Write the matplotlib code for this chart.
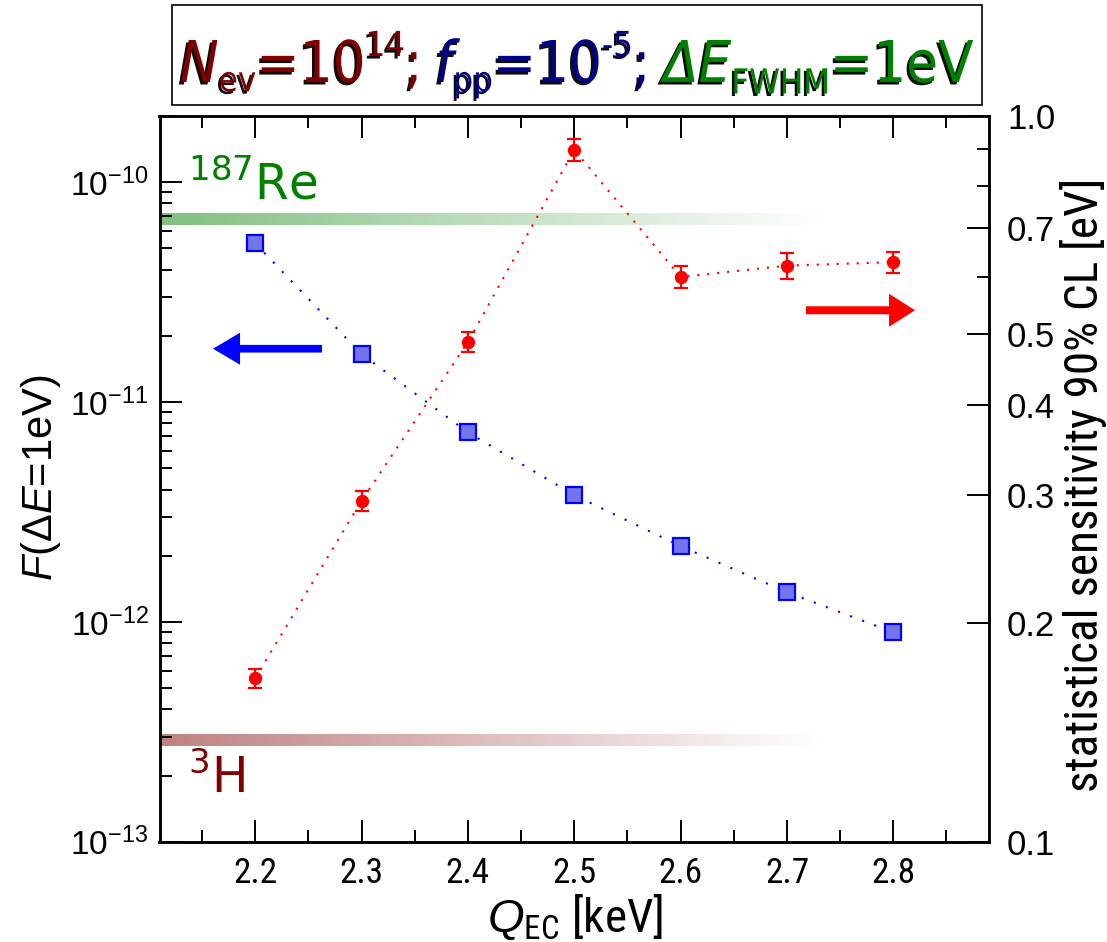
import os
import numpy as np
import matplotlib
matplotlib.use("Agg")
import matplotlib.pyplot as plt
from matplotlib import patheffects as pe
from matplotlib import font_manager as fm
from matplotlib.colors import to_rgb
from matplotlib.collections import LineCollection
from matplotlib.patches import FancyArrow, Rectangle
from matplotlib.ticker import FixedLocator, FixedFormatter, NullFormatter, LogLocator

# ---- data -------------------------------------------------------------
q_ec = [2.2, 2.3, 2.4, 2.5, 2.6, 2.7, 2.8]                      # keV
f_de1 = [5.27e-11, 1.65e-11, 7.28e-12, 3.77e-12, 2.21e-12, 1.365e-12, 8.97e-13]
sens90 = [0.168, 0.295, 0.488, 0.898, 0.600, 0.622, 0.629]      # eV
sens90_err = [0.0052, 0.0090, 0.0156, 0.031, 0.021, 0.026, 0.021]
f_re187 = 6.8e-11
f_h3 = 2.9e-13
band_end = 2.735

x_ticks = [2.2, 2.3, 2.4, 2.5, 2.6, 2.7, 2.8]
left_major = [1e-13, 1e-12, 1e-11, 1e-10]
right_major = [0.1, 0.2, 0.3, 0.4, 0.5, 0.7, 1.0]
right_labels = ["0.1", "0.2", "0.3", "0.4", "0.5", "0.7", "1.0"]
right_minor = [0.6, 0.8, 0.9]

DARKRED = "#800000"
NAVY = "#00008b"
GREEN = "#008000"

# ---- fonts ------------------------------------------------------------
_fonts = fm.fontManager.ttflist
_names = {f.name for f in _fonts}
SANS = ["Liberation Sans", "DejaVu Sans"]
_narrow = next((n for n in ["Liberation Sans Narrow", "Arial Narrow", "Roboto Condensed",
                            "Open Sans Condensed", "Noto Sans Condensed"] if n in _names), None)
NARROW = ([_narrow] if _narrow else []) + SANS


def _font_file(filename):
    for f in _fonts:
        if os.path.basename(f.fname) == filename:
            return f.fname
    for p in fm.findSystemFonts():
        if os.path.basename(p) == filename:
            return p
    return None


_head_up = _font_file("DejaVuSansCondensed.ttf")
_head_it = _font_file("DejaVuSansCondensed-Oblique.ttf")


def head_props(style, size):
    path = _head_it if style == "italic" else _head_up
    if path:
        return fm.FontProperties(fname=path, size=size)
    return fm.FontProperties(family=NARROW, style=style, weight="normal", size=size)


plt.rcParams.update({
    "font.family": SANS,
    "mathtext.fontset": "custom",
    "mathtext.rm": "Liberation Sans",
    "mathtext.it": "Liberation Sans:italic",
    "mathtext.bf": "Liberation Sans:bold",
    "axes.linewidth": 1.8,
    "xtick.direction": "in",
    "ytick.direction": "in",
    "xtick.major.size": 16, "xtick.minor.size": 8.5,
    "ytick.major.size": 16, "ytick.minor.size": 8.5,
    "xtick.major.width": 1.4, "xtick.minor.width": 1.4,
    "ytick.major.width": 1.4, "ytick.minor.width": 1.4,
})

W_PX, H_PX = 1107, 942
fig = plt.figure(figsize=(W_PX / 100, H_PX / 100), dpi=100)
renderer = fig.canvas.get_renderer()


def fit_size(text, max_size, target_px, **kw):
    """Largest font size (<= max_size) whose rendered width stays within target_px."""
    t = fig.text(0, 0, text, fontsize=max_size, **kw)
    w = t.get_window_extent(renderer).width
    t.remove()
    return min(max_size, max_size * target_px / w)


ax = fig.add_axes([159.5 / W_PX, (H_PX - 841.7) / H_PX, 829.5 / W_PX, 725.7 / H_PX])
ax2 = ax.twinx()

# ---- left axis: F(dE = 1 eV) -------------------------------------------
ax.set_xlim(2.11, 2.89)
ax.set_yscale("log")
ax.set_ylim(1e-13, 2e-10)
ax.yaxis.set_major_locator(FixedLocator(left_major))
ax.yaxis.set_minor_locator(LogLocator(base=10, subs=np.arange(2, 10), numticks=20))
ax.yaxis.set_minor_formatter(NullFormatter())
ax.tick_params(axis="y", which="both", left=True, right=False, labelsize=24, pad=8)

xt_size = fit_size("2.2", 29, 44, fontfamily=NARROW)
ax.set_xticks(x_ticks, labels=[f"{v:.1f}" for v in x_ticks],
              fontfamily=NARROW, fontsize=xt_size)
ax.xaxis.set_minor_locator(FixedLocator(np.round(np.arange(2.15, 2.9, 0.1), 2)))
ax.tick_params(axis="x", which="both", top=True, bottom=True, pad=11)


def gradient_band(axis, x0, x1, level, color, alpha0=0.5, lw=8.5, n=300):
    xs = np.linspace(x0, x1, n + 1)
    segs = [[(xs[i], level), (xs[i + 1], level)] for i in range(n)]
    rgba = np.zeros((n, 4))
    rgba[:, :3] = to_rgb(color)
    rgba[:, 3] = alpha0 * (1 - (np.arange(n) + 0.5) / n)
    lc = LineCollection(segs, colors=rgba, linewidths=lw, capstyle="butt",
                        antialiaseds=False, zorder=1)
    axis.add_collection(lc)


gradient_band(ax, 2.11, band_end, f_re187, GREEN)
gradient_band(ax, 2.11, band_end, f_h3, DARKRED)

ax.text(0.0344, 0.8843, r"$^{\mathdefault{187}}$Re", transform=ax.transAxes,
        color=GREEN, fontsize=35, family="DejaVu Sans", va="baseline", ha="left")
ax.text(0.0344, 0.0671, r"$^{\mathdefault{3}}$H", transform=ax.transAxes,
        color=DARKRED, fontsize=35, family="DejaVu Sans", va="baseline", ha="left")

ax.plot(q_ec, f_de1, ls=(0, (1, 5.2)), color="blue", lw=1.5, zorder=3)
ax.plot(q_ec, f_de1, ls="none", marker="s", ms=11, mfc="#7474ea", mec="blue",
        mew=1.6, zorder=4)

ax.add_patch(FancyArrow(0.1959, 0.6793, -0.1314, 0, width=0.0106, head_width=0.0441,
                        head_length=0.0326, length_includes_head=True,
                        transform=ax.transAxes, color="blue", lw=0, zorder=5))

ax.set_ylabel(r"$F$(Δ$E$=1eV)", fontsize=30)
ax.yaxis.label.set_va("center")
ax.yaxis.set_label_coords(-0.1429, 0.5012)

xlabel = r"$Q_{\mathdefault{EC}}$ [keV]"
ax.set_xlabel(xlabel, fontsize=fit_size(xlabel, 34, 190, fontfamily=NARROW),
              fontfamily=NARROW)
ax.xaxis.label.set_va("center")
ax.xaxis.set_label_coords(0.5009, -0.1035)

# ---- right axis: sensitivity -------------------------------------------
ax2.set_yscale("log")
ax2.set_ylim(0.1, 1.0)
ax2.yaxis.set_major_locator(FixedLocator(right_major))
ax2.yaxis.set_major_formatter(FixedFormatter(right_labels))
ax2.yaxis.set_minor_locator(FixedLocator(right_minor))
ax2.yaxis.set_minor_formatter(NullFormatter())
ax2.tick_params(axis="y", which="both", right=True, left=False, direction="in",
                labelsize=25, pad=13)
ax2.tick_params(axis="y", which="major", length=16)
ax2.tick_params(axis="y", which="minor", length=8.5)

ax2.plot(q_ec, sens90, ls=(0, (1, 3.8)), color="red", lw=1.5, zorder=3)
ax2.errorbar(q_ec, sens90, yerr=sens90_err, fmt="o", color="red", ms=8.6,
             capsize=5, elinewidth=1.6, capthick=1.6, zorder=4)

ax2.add_patch(FancyArrow(0.7794, 0.7323, 0.1314, 0, width=0.011, head_width=0.0455,
                         head_length=0.0313, length_includes_head=True,
                         transform=ax2.transAxes, color="red", lw=0, zorder=5))

rlabel = "statistical sensitivity 90% CL [eV]"
ax2.set_ylabel(rlabel, fontsize=fit_size(rlabel, 34, 700, fontfamily=NARROW),
               fontfamily=NARROW)
ax2.yaxis.label.set_va("center")
ax2.yaxis.set_label_coords(1.1145, 0.4915)

# ---- header box -------------------------------------------------------
fig.add_artist(Rectangle((172 / W_PX, (H_PX - 105) / H_PX), 810 / W_PX, 100 / H_PX,
                         transform=fig.transFigure, facecolor="white",
                         edgecolor="black", lw=1.2, zorder=0))

shadow = [pe.SimplePatchShadow(offset=(-1.8, -1.8), shadow_rgbFace="black", alpha=0.95),
          pe.Normal()]

# (text, colour, style, relative size, vertical shift in em); None -> gap in em
runs = [
    ("N", DARKRED, "italic", 1.0, 0.0),
    ("ev", DARKRED, "normal", 0.6, -0.16),
    ("=10", DARKRED, "normal", 1.0, 0.0),
    ("14", DARKRED, "normal", 0.6, 0.45),
    (";", DARKRED, "normal", 1.0, 0.0),
    (None, 0.22),
    ("f", NAVY, "italic", 1.0, 0.0),
    ("pp", NAVY, "normal", 0.6, -0.16),
    ("=10", NAVY, "normal", 1.0, 0.0),
    ("-5", NAVY, "normal", 0.6, 0.45),
    (";", NAVY, "normal", 1.0, 0.0),
    (None, 0.22),
    ("ΔE", GREEN, "italic", 1.0, 0.0),
    ("FWHM", GREEN, "normal", 0.6, -0.2),
    ("=1eV", GREEN, "normal", 1.0, 0.0),
]


def place_runs(size, x_left, baseline):
    em = size * fig.dpi / 72
    x = x_left
    made = []
    for run in runs:
        if run[0] is None:
            x += run[1] * em
            continue
        text, color, style, rel, rise = run
        t = fig.text(x / W_PX, (baseline + rise * em) / H_PX, text, color=color,
                     fontproperties=head_props(style, size * rel),
                     va="baseline", ha="left", path_effects=shadow, zorder=3)
        made.append(t)
        x = t.get_window_extent(renderer).x1
    return made, x


x_start, x_stop, base = 180, 975, H_PX - 82
size = 60
made, x_end = place_runs(size, x_start, base)
for t in made:
    t.remove()
size = min(size, size * (x_stop - x_start) / (x_end - x_start))
place_runs(size, x_start, base)

fig.savefig("out.png", dpi=100)
